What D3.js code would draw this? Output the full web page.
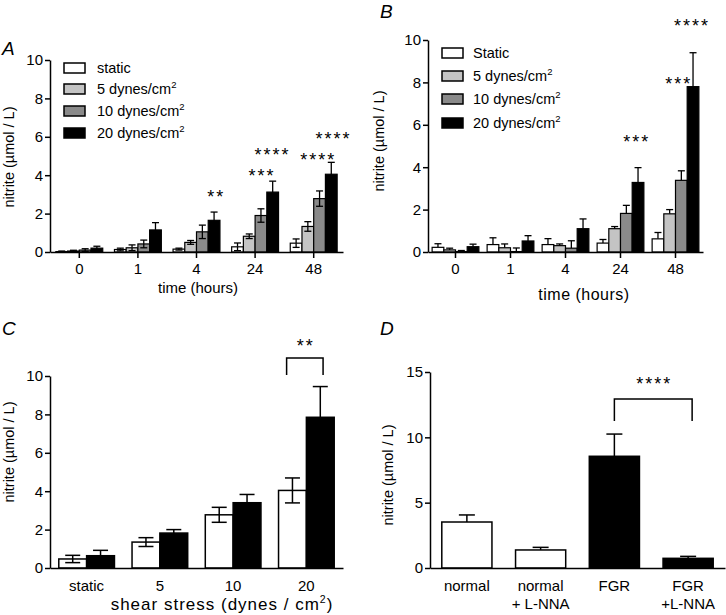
<!DOCTYPE html>
<html><head><meta charset="utf-8">
<script src="https://cdn.jsdelivr.net/npm/d3@7"></script>
<style>
body{margin:0;background:#fff}
svg{display:block}
text{font-family:"Liberation Sans",Arial,Helvetica,sans-serif;fill:#000}
</style>
</head><body>
<svg id="c" width="726" height="615"></svg>
<script>
// ---------- DATA ----------
const timeCats = ["0", "1", "4", "24", "48"];
const seriesColors = ["#ffffff", "#c4c4c4", "#8a8a8a", "#000000"];
const legendA = ["static", "5 dynes/cm", "10 dynes/cm", "20 dynes/cm"];
const legendB = ["Static", "5 dynes/cm", "10 dynes/cm", "20 dynes/cm"];

const A_static = [0.02, 0.13, 0.15, 0.27, 0.46];
const A_5      = [0.05, 0.22, 0.50, 0.82, 1.33];
const A_10     = [0.10, 0.42, 1.05, 1.90, 2.78];
const A_20     = [0.20, 1.15, 1.65, 3.12, 4.05];
const A_static_err = [0.03, 0.07, 0.05, 0.20, 0.22];
const A_5_err      = [0.04, 0.15, 0.10, 0.12, 0.25];
const A_10_err     = [0.07, 0.20, 0.35, 0.35, 0.40];
const A_20_err     = [0.10, 0.38, 0.43, 0.57, 0.62];

const B_static = [0.22, 0.35, 0.35, 0.42, 0.62];
const B_5      = [0.10, 0.20, 0.30, 1.10, 1.80];
const B_10     = [0.02, 0.02, 0.18, 1.82, 3.38];
const B_20     = [0.25, 0.52, 1.10, 3.28, 7.80];
const B_static_err = [0.17, 0.32, 0.28, 0.17, 0.30];
const B_5_err      = [0.08, 0.18, 0.08, 0.10, 0.20];
const B_10_err     = [0.05, 0.17, 0.35, 0.38, 0.45];
const B_20_err     = [0.12, 0.25, 0.46, 0.70, 1.60];

const C_cats = ["static", "5", "10", "20"];
const C_white = [0.47, 1.35, 2.77, 4.04];
const C_black = [0.64, 1.82, 3.40, 7.85];
const C_white_err = [0.19, 0.23, 0.39, 0.65];
const C_black_err = [0.28, 0.18, 0.43, 1.60];

const D_cats = [["normal"], ["normal", "+ L-NNA"], ["FGR"], ["FGR", "+L-NNA"]];
const D_values = [3.52, 1.38, 8.55, 0.74];
const D_err = [0.54, 0.20, 1.70, 0.15];
const D_fill = ["#ffffff", "#ffffff", "#000000", "#000000"];

const ticksAC = [0, 2, 4, 6, 8, 10];
const ticksD = [0, 5, 10, 15];

// significance annotations: category, series position, level (data units), label
const starsA = [
  {cat: "4",  pos: 3.1, level: 2.55, text: "**"},
  {cat: "24", pos: 2.0, level: 3.65, text: "***"},
  {cat: "24", pos: 2.9, level: 4.74, text: "****"},
  {cat: "48", pos: 1.8, level: 4.48, text: "****"},
  {cat: "48", pos: 3.1, level: 5.57, text: "****"}
];
const starsB = [
  {cat: "24", pos: 2.8, level: 4.9, text: "***"},
  {cat: "48", pos: 1.7, level: 7.64, text: "***"},
  {cat: "48", pos: 2.83, level: 10.38, text: "****"}
];

// ---------- DRAW ----------
const svg = d3.select("#c");
const FS = 15;      // tick / category labels
const LS = 14.5;    // legend & y label

function yAxis(g, y, ticks, x0) {
  g.append("g").attr("transform", `translate(${x0},0)`)
    .call(d3.axisLeft(y).tickValues(ticks).tickSize(5).tickPadding(2).tickSizeOuter(0))
    .call(s => {
      s.attr("font-size", FS).attr("font-family", null);
      s.select(".domain").attr("stroke-width", 1.5);
      s.selectAll(".tick line").attr("stroke-width", 1.5);
      s.selectAll("text").attr("font-size", FS).attr("fill", "#000");
    });
}
function xAxis(g, x, y0, showTicks) {
  g.append("g").attr("transform", `translate(0,${y0})`)
    .call(d3.axisBottom(x).tickSize(showTicks ? 6 : 0).tickSizeOuter(0).tickFormat(""))
    .call(s => {
      s.select(".domain").attr("stroke-width", 1.5);
      s.selectAll(".tick line").attr("stroke-width", 1.5);
    });
}
function yLabel(g, x, cy) {
  g.append("text").attr("transform", `translate(${x},${cy}) rotate(-90)`)
    .attr("text-anchor", "middle").attr("font-size", LS).text("nitrite (µmol / L)");
}
function panelLetter(x, y, t) {
  svg.append("text").attr("x", x).attr("y", y).attr("font-size", 19)
    .attr("font-style", "italic").text(t);
}
function stars(g, x, y, text) {
  g.append("text").attr("x", x + 1).attr("y", y).attr("text-anchor", "middle")
    .attr("font-size", 18).attr("letter-spacing", 2).text(text);
}
function legend(g, labels, x, rows, textX) {
  labels.forEach((l, i) => {
    g.append("rect").attr("x", x).attr("y", rows[i] - 5).attr("width", 21).attr("height", 10)
      .attr("fill", seriesColors[i]).attr("stroke", "#000").attr("stroke-width", 1.5);
    const t = g.append("text").attr("x", textX).attr("y", rows[i] + 5).attr("font-size", LS).text(l);
    if (i > 0) t.append("tspan").attr("dy", -6).attr("font-size", 9.5).text("2");
  });
}

function groupedPanel(opts) {
  const g = svg.append("g");
  const x0 = d3.scaleBand().domain(timeCats).range(opts.xr)
    .paddingInner(opts.pin).paddingOuter(opts.pout);
  const x1 = d3.scaleBand().domain(d3.range(4)).range([0, x0.bandwidth()]);
  const y = d3.scaleLinear().domain([0, 10]).range(opts.yr);
  const series = opts.series;
  const cap = 3.5;
  series.forEach((s, si) => {
    timeCats.forEach((c, ci) => {
      const bx = x0(c) + x1(si), bw = x1.bandwidth();
      const v = s.vals[ci], e = s.errs[ci];
      const cx = bx + bw / 2;
      g.append("line").attr("x1", cx).attr("x2", cx).attr("y1", y(v + e)).attr("y2", y(v))
        .attr("stroke", "#000").attr("stroke-width", 1.3);
      g.append("line").attr("x1", cx - cap).attr("x2", cx + cap).attr("y1", y(v + e)).attr("y2", y(v + e))
        .attr("stroke", "#000").attr("stroke-width", 1.3);
      g.append("rect").attr("x", bx).attr("y", y(v)).attr("width", bw).attr("height", y(0) - y(v))
        .attr("fill", seriesColors[si]).attr("stroke", "#000").attr("stroke-width", 1.2);
    });
  });
  if (opts.both) {
    series.forEach((s, si) => {
      timeCats.forEach((c, ci) => {
        const bx = x0(c) + x1(si), bw = x1.bandwidth();
        const v = s.vals[ci], e = s.errs[ci];
        const cx = bx + bw / 2;
        const lo = y(Math.max(0, v - e));
        g.append("line").attr("x1", cx).attr("x2", cx).attr("y1", y(v)).attr("y2", lo)
          .attr("stroke", "#000").attr("stroke-width", 1.3);
        g.append("line").attr("x1", cx - cap).attr("x2", cx + cap).attr("y1", lo).attr("y2", lo)
          .attr("stroke", "#000").attr("stroke-width", 1.3);
      });
    });
  }
  xAxis(g, x0, opts.yr[0], true);
  yAxis(g, y, ticksAC, opts.xr[0]);
  timeCats.forEach(c => {
    g.append("text").attr("x", x0(c) + x0.bandwidth() / 2).attr("y", opts.yr[0] + 22)
      .attr("text-anchor", "middle").attr("font-size", FS).text(c);
  });
  g.append("text").attr("x", opts.titleX).attr("y", opts.titleY).attr("text-anchor", "middle")
    .attr("font-size", opts.titleSize).attr("letter-spacing", opts.titleLS).text("time (hours)");
  yLabel(g, opts.ylabX, opts.ylabY);
  legend(g, opts.legend, opts.legX, opts.legRows, opts.legTextX);
  opts.stars.forEach(st => {
    stars(g, x0(st.cat) + x1.step() * (st.pos + 0.5), y(st.level), st.text);
  });
}

// Panel A
groupedPanel({
  xr: [50, 343], yr: [252, 60], pin: 0.2, pout: 0.1, both: true,
  series: [
    {vals: A_static, errs: A_static_err}, {vals: A_5, errs: A_5_err},
    {vals: A_10, errs: A_10_err}, {vals: A_20, errs: A_20_err}],
  titleX: 198, titleY: 293, titleSize: 15, titleLS: 0, ylabX: 14, ylabY: 157,
  legend: legendA, legX: 64, legRows: [68, 89, 111, 133], legTextX: 97,
  stars: starsA
});
panelLetter(2, 55, "A");

// Panel B
groupedPanel({
  xr: [428, 703], yr: [252, 40], pin: 0.15, pout: 0.075, both: false,
  series: [
    {vals: B_static, errs: B_static_err}, {vals: B_5, errs: B_5_err},
    {vals: B_10, errs: B_10_err}, {vals: B_20, errs: B_20_err}],
  titleX: 584, titleY: 300, titleSize: 16, titleLS: 0.5, ylabX: 384, ylabY: 141,
  legend: legendB, legX: 442, legRows: [53, 76, 99, 123], legTextX: 473,
  stars: starsB
});
panelLetter(380, 18, "B");

// Panel C
(function () {
  const g = svg.append("g");
  const x0 = d3.scaleBand().domain(C_cats).range([50, 343]).paddingInner(0.24).paddingOuter(0.12);
  const x1 = d3.scaleBand().domain([0, 1]).range([0, x0.bandwidth()]);
  const y = d3.scaleLinear().domain([0, 10]).range([568, 376]);
  const sets = [{v: C_white, e: C_white_err, f: "#ffffff"}, {v: C_black, e: C_black_err, f: "#000000"}];
  sets.forEach((s, si) => {
    C_cats.forEach((c, ci) => {
      const bx = x0(c) + x1(si), bw = x1.bandwidth(), v = s.v[ci], e = s.e[ci];
      const cx = bx + bw / 2, cap = 7.5;
      g.append("rect").attr("x", bx).attr("y", y(v)).attr("width", bw).attr("height", y(0) - y(v))
        .attr("fill", s.f).attr("stroke", "#000").attr("stroke-width", 1.5);
      g.append("line").attr("x1", cx).attr("x2", cx).attr("y1", y(v + e)).attr("y2", y(v - e))
        .attr("stroke", "#000").attr("stroke-width", 1.5);
      [v + e, v - e].forEach(t => g.append("line").attr("x1", cx - cap).attr("x2", cx + cap)
        .attr("y1", y(t)).attr("y2", y(t)).attr("stroke", "#000").attr("stroke-width", 1.5));
    });
  });
  xAxis(g, x0, 568, false);
  yAxis(g, y, ticksAC, 50);
  C_cats.forEach(c => g.append("text").attr("x", x0(c) + x0.bandwidth() / 2).attr("y", 591)
    .attr("text-anchor", "middle").attr("font-size", FS).text(c));
  const t = g.append("text").attr("x", 222).attr("y", 610).attr("text-anchor", "middle")
    .attr("font-size", 17).attr("letter-spacing", 1).text("shear stress (dynes / cm");
  t.append("tspan").attr("dy", -7).attr("font-size", 10.5).text("2");
  t.append("tspan").attr("dy", 7).text(")");
  yLabel(g, 14, 452);
  const bl = x0("20") + x1.step() * (-0.21 + 0.5), br = x0("20") + x1.step() * (1.1 + 0.5);
  g.append("path").attr("d", `M${bl},${y(10.05)}V${y(10.94)}H${br}V${y(10.05)}`)
    .attr("fill", "none").attr("stroke", "#000").attr("stroke-width", 1.5);
  stars(g, (bl + br) / 2, y(11.25), "**");
})();
panelLetter(2, 335, "C");

// Panel D
(function () {
  const g = svg.append("g");
  const keys = D_cats.map(d => d.join(" "));
  const x = d3.scaleBand().domain(keys).range([430, 725]).paddingInner(0.32).paddingOuter(0.16);
  const y = d3.scaleLinear().domain([0, 15]).range([568, 372]);
  keys.forEach((k, i) => {
    const bx = x(k), bw = x.bandwidth(), v = D_values[i], e = D_err[i], cx = bx + bw / 2, cap = 8;
    g.append("line").attr("x1", cx).attr("x2", cx).attr("y1", y(v + e)).attr("y2", y(v))
      .attr("stroke", "#000").attr("stroke-width", 1.5);
    g.append("line").attr("x1", cx - cap).attr("x2", cx + cap).attr("y1", y(v + e)).attr("y2", y(v + e))
      .attr("stroke", "#000").attr("stroke-width", 1.5);
    g.append("rect").attr("x", bx).attr("y", y(v)).attr("width", bw).attr("height", y(0) - y(v))
      .attr("fill", D_fill[i]).attr("stroke", "#000").attr("stroke-width", 1.5);
    D_cats[i].forEach((line, li) => g.append("text").attr("x", cx).attr("y", 591 + li * 18)
      .attr("text-anchor", "middle").attr("font-size", FS).text(line));
  });
  xAxis(g, x, 568, false);
  yAxis(g, y, ticksD, 430);
  yLabel(g, 393, 475);
  const bl = x(keys[2]) + x.bandwidth() / 2, br = x(keys[3]) + x.bandwidth() / 2 + 4;
  g.append("path").attr("d", `M${bl},${y(11.25)}V${y(12.93)}H${br}V${y(11.25)}`)
    .attr("fill", "none").attr("stroke", "#000").attr("stroke-width", 1.5);
  stars(g, (bl + br) / 2, y(13.6), "****");
})();
panelLetter(380, 335, "D");
</script>
</body></html>
